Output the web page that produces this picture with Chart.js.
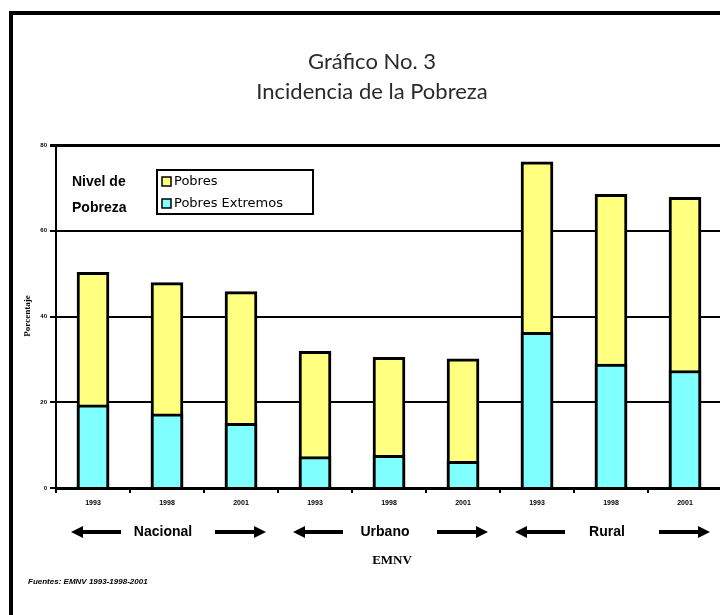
<!DOCTYPE html>
<html>
<head>
<meta charset="utf-8">
<script src="https://cdn.jsdelivr.net/npm/chart.js@4.4.1/dist/chart.umd.min.js"></script>
<style>
  html, body { margin: 0; padding: 0; background: #fff; overflow: hidden; }
  #wrap { width: 730px; height: 615px; }
</style>
</head>
<body>
<div id="wrap"><canvas id="chart" width="730" height="615"></canvas></div>
<script>
// === Data ===
const years = ['1993', '1998', '2001', '1993', '1998', '2001', '1993', '1998', '2001'];
const groups = ['Nacional', 'Urbano', 'Rural'];
const pobres = [50.3, 47.9, 45.8, 31.9, 30.5, 30.1, 76.1, 68.5, 67.8];
const pobresExtremos = [19.4, 17.3, 15.1, 7.3, 7.6, 6.2, 36.3, 28.9, 27.4];
const yTicks = [0, 20, 40, 60, 80];

const YELLOW = '#ffff80';
const CYAN = '#80ffff';

// draws the frame, titles, legend and the group labels under the axis
const decorations = {
  id: 'decorations',
  beforeDraw(chart) {
    const ctx = chart.ctx;
    ctx.save();
    ctx.fillStyle = '#fff';
    ctx.fillRect(0, 0, chart.width, chart.height);
    ctx.restore();
  },
  afterDraw(chart) {
    const ctx = chart.ctx;
    const x = chart.scales.x;
    ctx.save();

    // outer frame
    ctx.strokeStyle = '#000';
    ctx.lineWidth = 4;
    ctx.beginPath();
    ctx.moveTo(11, chart.height + 5);
    ctx.lineTo(11, 13);
    ctx.lineTo(chart.width + 5, 13);
    ctx.stroke();

    // title
    ctx.fillStyle = '#2a2a2a';
    ctx.textAlign = 'center';
    ctx.textBaseline = 'middle';
    ctx.font = '22px Lato';
    ctx.fillText('Gráfico No. 3', 372, 62);
    ctx.fillText('Incidencia de la Pobreza', 372, 92);

    // y title
    ctx.save();
    ctx.translate(28, 316);
    ctx.rotate(-Math.PI / 2);
    ctx.fillStyle = '#000';
    ctx.font = 'bold 9px "Liberation Serif"';
    ctx.fillText('Porcentaje', 0, 0);
    ctx.restore();

    // legend
    ctx.fillStyle = '#000';
    ctx.textAlign = 'left';
    ctx.font = 'bold 14px "Liberation Sans"';
    ctx.fillText('Nivel de', 72, 182);
    ctx.fillText('Pobreza', 72, 208);
    ctx.lineWidth = 2;
    ctx.strokeRect(157, 170, 156, 44);
    const items = chart.data.datasets;
    items.forEach((ds, i) => {
      const yy = 182 + i * 22;
      ctx.fillStyle = ds.backgroundColor;
      ctx.fillRect(162, yy - 5, 9, 9);
      ctx.lineWidth = 1.5;
      ctx.strokeStyle = '#000';
      ctx.strokeRect(162, yy - 5, 9, 9);
      ctx.fillStyle = '#000';
      ctx.font = '13px "DejaVu Sans"';
      ctx.fillText(ds.label, 174, yy);
    });

    // group labels with arrows
    const arrow = (x1, x2, yy, dir) => {
      ctx.lineWidth = 4;
      ctx.strokeStyle = '#000';
      ctx.fillStyle = '#000';
      const tip = dir < 0 ? x1 : x2;
      const base = dir < 0 ? x1 + 12 : x2 - 12;
      ctx.beginPath();
      ctx.moveTo(dir < 0 ? base : x1, yy);
      ctx.lineTo(dir < 0 ? x2 : base, yy);
      ctx.stroke();
      ctx.beginPath();
      ctx.moveTo(tip, yy);
      ctx.lineTo(base, yy - 6);
      ctx.lineTo(base, yy + 6);
      ctx.closePath();
      ctx.fill();
    };
    groups.forEach((g, i) => {
      const c = x.getPixelForValue(i * 3 + 1);
      const yy = 532;
      arrow(c - 96, c - 46, yy, -1);
      arrow(c + 48, c + 99, yy, 1);
      ctx.fillStyle = '#000';
      ctx.textAlign = 'center';
      ctx.font = 'bold 14px "Liberation Sans"';
      ctx.fillText(g, c - 4, yy);
    });

    ctx.font = 'bold 13px "Liberation Serif"';
    ctx.fillText('EMNV', 392, 561);

    ctx.textAlign = 'left';
    ctx.font = 'italic bold 8px "Liberation Sans"';
    ctx.fillText('Fuentes: EMNV 1993-1998-2001', 28, 582);
    ctx.restore();
  }
};

new Chart(document.getElementById('chart'), {
  type: 'bar',
  data: {
    labels: years,
    datasets: [
      { label: 'Pobres', data: pobres, backgroundColor: YELLOW, borderColor: '#000', borderWidth: 3, order: 2, barThickness: 32 },
      { label: 'Pobres Extremos', data: pobresExtremos, backgroundColor: CYAN, borderColor: '#000', borderWidth: 3, order: 1, barThickness: 32 },
    ]
  },
  options: {
    responsive: false,
    animation: false,
    layout: { padding: { top: 145, right: 8, bottom: 97, left: 0 } },
    plugins: {
      legend: { display: false },
      title: { display: false },
      tooltip: { enabled: false }
    },
    scales: {
      x: {
        stacked: true,
        offset: true,
        afterFit: (s) => { s.height = 30; },
        grid: { offset: true, drawOnChartArea: false, tickLength: 5, color: '#000', lineWidth: 2 },
        border: { color: '#000', width: 3 },
        ticks: { color: '#000', font: { size: 7, weight: 'bold', family: '"Liberation Sans"' }, padding: 6 }
      },
      y: {
        stacked: false,
        min: 0,
        max: 80,
        afterFit: (s) => { s.width = 56; },
        afterBuildTicks: (s) => { s.ticks = yTicks.map(v => ({ value: v })); },
        grid: { color: '#000', lineWidth: (c) => c.tick && c.tick.value === 80 ? 3 : 2, tickLength: 6 },
        border: { color: '#000', width: 2 },
        ticks: { color: '#000', font: { size: 6, weight: 'bold', family: '"Liberation Sans"' }, padding: 3 }
      }
    }
  },
  plugins: [decorations]
});
</script>
</body>
</html>
